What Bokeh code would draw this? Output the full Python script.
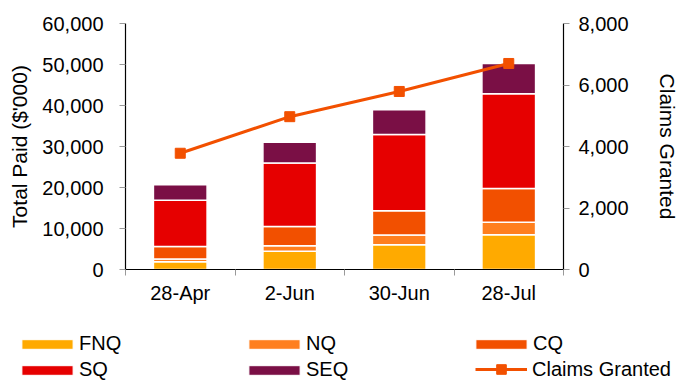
from bokeh.plotting import figure
from bokeh.models import (Range1d, LinearAxis, FixedTicker, NumeralTickFormatter,
                          Legend, LegendItem, ColumnDataSource)
from bokeh.embed import file_html
from bokeh.resources import INLINE

categories = ["28-Apr", "2-Jun", "30-Jun", "28-Jul"]
regions = ["FNQ", "NQ", "CQ", "SQ", "SEQ"]
FNQ = [1860, 4430, 6050, 8460]
NQ = [730, 1370, 2340, 3070]
CQ = [3050, 4670, 5960, 8220]
SQ = [11260, 15480, 18550, 23140]
SEQ = [3800, 5080, 6040, 7340]
claims_granted = [3780, 4970, 5790, 6700]
left_ticks = [0, 10000, 20000, 30000, 40000, 50000, 60000]
right_ticks = [0, 2000, 4000, 6000, 8000]

colors = ["#FFAA00", "#FF7F1E", "#F25000", "#E60000", "#7A0F45"]
line_color = "#F25000"
FONT = "Liberation Sans"

xpos = list(range(1, len(categories) + 1))
src = ColumnDataSource(dict(x=xpos, FNQ=FNQ, NQ=NQ, CQ=CQ, SQ=SQ, SEQ=SEQ,
                            claims=claims_granted))

p = figure(width=691, height=330, output_backend="svg", toolbar_location=None,
           x_range=Range1d(0.5, len(categories) + 0.5), y_range=Range1d(0, 60000),
           min_border_left=125, min_border_right=128, min_border_top=23,
           min_border_bottom=61, y_axis_location=None, x_axis_location=None)
p.outline_line_color = None
p.grid.visible = False
p.background_fill_color = "white"
p.border_fill_color = "white"

p.extra_y_ranges = {"claims": Range1d(0, 8000)}

bars = p.vbar_stack(regions, x="x", width=0.49, source=src, color=colors,
                    line_color="white", line_width=1.5)

p.line("x", "claims", source=src, y_range_name="claims",
       line_color=line_color, line_width=3)
p.scatter("x", "claims", source=src, y_range_name="claims", marker="square",
          size=10, fill_color=line_color, line_color=line_color)

yl = LinearAxis(ticker=FixedTicker(ticks=left_ticks),
                formatter=NumeralTickFormatter(format="0,0"),
                axis_label="Total Paid ($'000)")
yr = LinearAxis(y_range_name="claims", ticker=FixedTicker(ticks=right_ticks),
                formatter=NumeralTickFormatter(format="0,0"),
                axis_label="Claims Granted")
for ax, so, lso in ((yl, 16, 8), (yr, 9, 24)):
    ax.axis_line_color = "black"
    ax.axis_line_width = 1.2
    ax.major_tick_line_color = "#999999"
    ax.major_tick_out = 6
    ax.major_tick_in = 0
    ax.minor_tick_line_color = None
    ax.major_label_text_font = FONT
    ax.major_label_text_font_size = "20px"
    ax.major_label_text_color = "black"
    ax.major_label_standoff = so
    ax.axis_label_text_font = FONT
    ax.axis_label_text_font_size = "21px"
    ax.axis_label_text_font_style = "normal"
    ax.axis_label_text_color = "black"
    ax.axis_label_standoff = lso
p.add_layout(yl, "left")
p.add_layout(yr, "right")

xa = LinearAxis(ticker=FixedTicker(ticks=xpos,
                                   minor_ticks=[v - 0.5 for v in xpos] + [xpos[-1] + 0.5]),
                major_label_overrides={v: c for v, c in zip(xpos, categories)})
xa.axis_line_color = "black"
xa.axis_line_width = 1.2
xa.major_tick_out = 0
xa.major_tick_in = 0
xa.minor_tick_out = 6
xa.minor_tick_in = 0
xa.minor_tick_line_color = "#999999"
xa.major_label_text_font = FONT
xa.major_label_text_font_size = "20px"
xa.major_label_text_color = "black"
xa.major_label_standoff = 6
p.add_layout(xa, "below")

# legend strip: a second figure (separate root) whose renderers reuse the data
# but sit outside its visible ranges, so only the legend shows
lg = figure(width=691, height=51, output_backend="svg", toolbar_location=None,
            x_range=Range1d(-10, -9), y_range=Range1d(-2, -1),
            min_border_left=0, min_border_right=0, min_border_top=0,
            min_border_bottom=0, x_axis_location=None, y_axis_location=None)
lg.outline_line_color = None
lg.grid.visible = False
lg.background_fill_color = "white"
lg.border_fill_color = "white"
lg_bars = lg.vbar_stack(regions, x="x", width=0.49, source=src, color=colors,
                        line_color="white", line_width=1)
l1 = lg.line("x", "claims", source=src, line_color=line_color, line_width=3)
l2 = lg.scatter("x", "claims", source=src, marker="square", size=10,
                fill_color=line_color, line_color=line_color)

common = dict(orientation="horizontal", padding=0, margin=0,
              label_text_font=FONT, label_text_font_size="20px",
              label_text_color="black",
              border_line_color=None, background_fill_alpha=0)
legend_a = Legend(items=[LegendItem(label=r, renderers=[b]) for r, b in zip(regions, lg_bars)],
                  ncols=3, location=(15, 0), glyph_width=64, glyph_height=12,
                  label_standoff=0, label_width=160, label_height=20, spacing=3,
                  **common)
legend_b = Legend(items=[LegendItem(label="Claims Granted", renderers=[l1, l2])],
                  location=(475, 0), glyph_width=52, glyph_height=24,
                  label_standoff=5, label_height=20, spacing=0, **common)
lg.add_layout(legend_a, "center")
lg.add_layout(legend_b, "center")

open("out.html", "w").write(file_html([p, lg], INLINE))
